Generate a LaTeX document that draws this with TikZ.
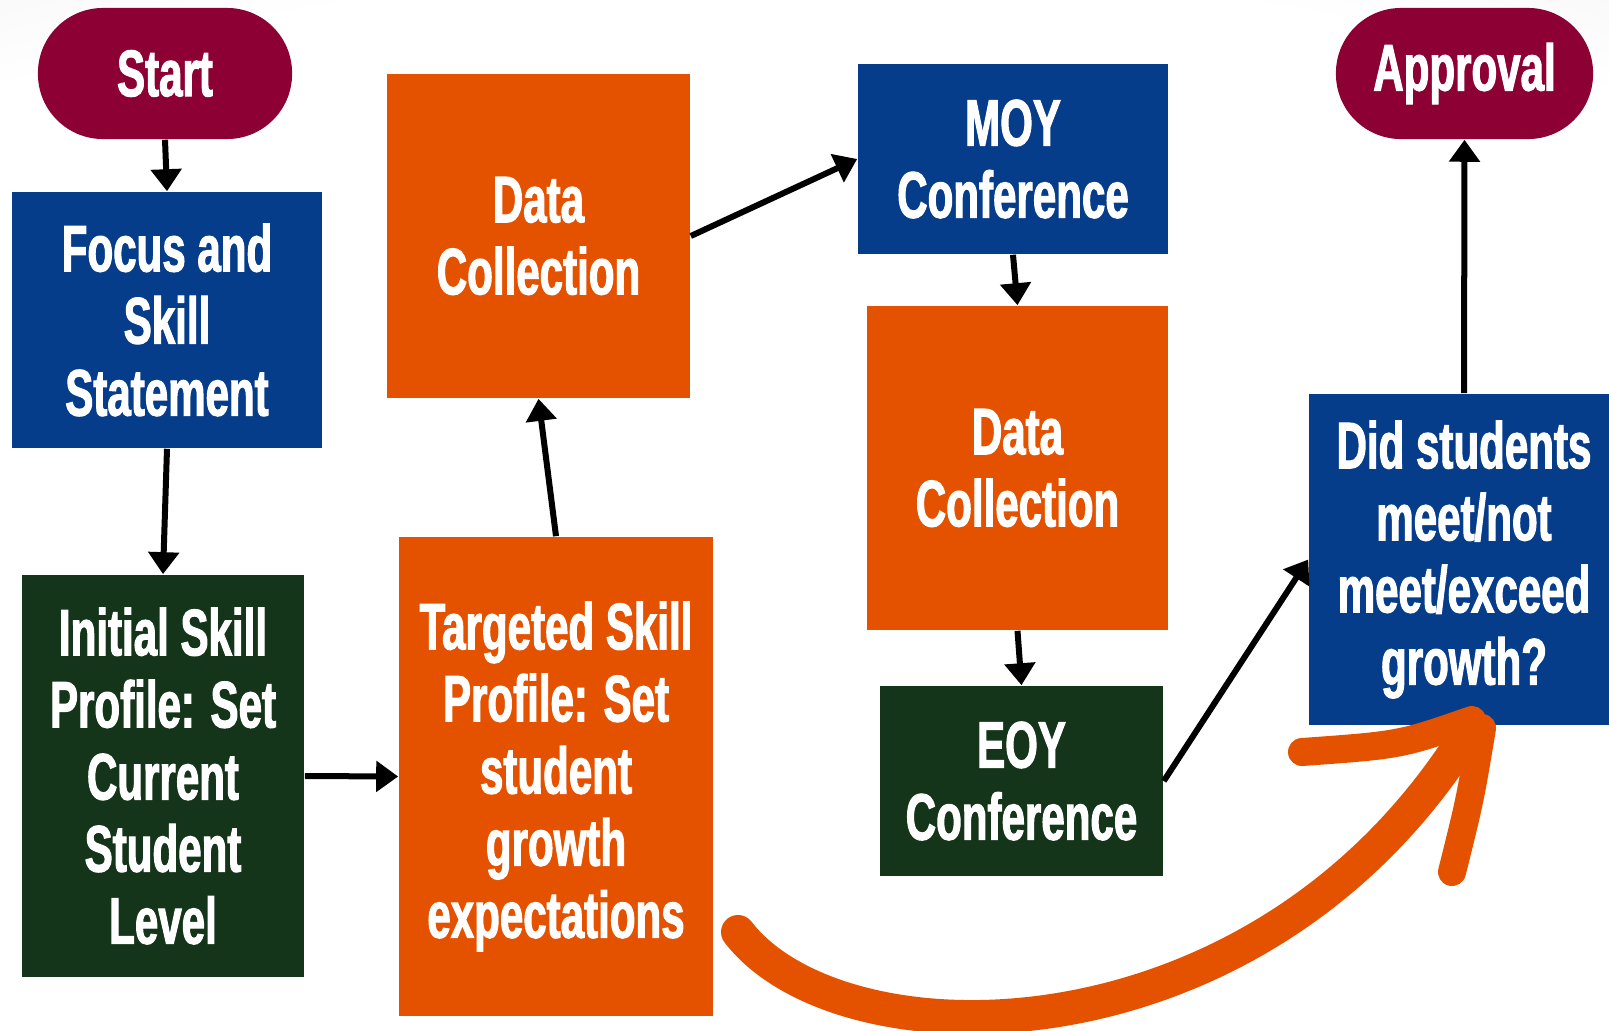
\documentclass[tikz,border=0pt]{standalone}
\usepackage{fontspec}
\setmainfont{Liberation Sans}[FakeStretch=0.64,FakeBold=1.6]
\usepackage{xcolor}
\usepackage{tikz}
\usetikzlibrary{shapes,arrows,arrows.meta,positioning,calc}

\definecolor{maroon}{HTML}{8C0034}
\definecolor{navy}{HTML}{063D8A}
\definecolor{rust}{HTML}{E45200}
\definecolor{pine}{HTML}{15351B}

\pgfdeclareradialshading{backshade}{\pgfpoint{0bp}{0bp}}{color(0bp)=(white); color(22bp)=(white); color(32bp)=(black!11); color(48bp)=(black!27); color(50bp)=(black!27)}

\tikzset{
  box/.style={rectangle, inner sep=0pt, text=white, align=center,
    font=\fontsize{18.7}{20.5}\selectfont\bfseries},
  terminal/.style={box, fill=maroon, rounded corners=0.65cm},
  flow/.style={line width=0.06cm, -{Triangle[width=0.3cm,length=0.22cm]}}
}

\begin{document}
\begin{tikzpicture}[x=0.01cm,y=-0.01cm]
            \useasboundingbox (0,0) rectangle (1609,1030);
            \clip (0,0) rectangle (1609,1030);
            \shade[shading=backshade] (800,850) ellipse (1800 and 1000);

            \node[terminal, minimum width=2.54cm, minimum height=1.31cm] (start) at (165,73.5) {Start};
            \node[terminal, minimum width=2.57cm, minimum height=1.31cm] (approval) at (1464.5,73.5) {Approval};

            \node[box, fill=navy, minimum width=3.10cm, minimum height=2.56cm] (focus) at (167,320) {Focus and\\Skill\\Statement};
            \node[box, fill=pine, minimum width=2.82cm, minimum height=4.02cm] (initial) at (163,776) {Initial Skill\\Profile: Set\\Current\\Student\\Level};
            \node[box, fill=rust, minimum width=3.03cm, minimum height=3.24cm] (collect1) at (538.5,236) {Data\\Collection};
            \node[box, fill=rust, minimum width=3.14cm, minimum height=4.79cm] (target) at (556,776.5) {Targeted Skill\\Profile: Set\\student\\growth\\expectations};
            \node[box, fill=navy, minimum width=3.10cm, minimum height=1.90cm] (moy) at (1013,159) {MOY\\Conference};
            \node[box, fill=rust, minimum width=3.01cm, minimum height=3.24cm] (collect2) at (1017.5,468) {Data\\Collection};
            \node[box, fill=pine, minimum width=2.83cm, minimum height=1.90cm] (eoy) at (1021.5,781) {EOY\\Conference};
            \node[box, fill=navy, minimum width=3.10cm, minimum height=3.31cm] (growth) at (1464,559.5) {Did students\\meet/not\\meet/exceed\\growth?};

            \draw[flow] (start.south) -- (focus.north);
            \draw[flow] (focus.south) -- (initial.north);
            \draw[flow] (initial.east) -- (target.west);
            \draw[flow] (target.north) -- (collect1.south);
            \draw[flow] (collect1.east) -- (moy.west);
            \draw[flow] (moy.south) -- (collect2.north);
            \draw[flow] (collect2.south) -- (eoy.north);
            \draw[flow] (eoy.east) -- (growth.west);
            \draw[flow] (growth.north) -- (approval.south);

            % big orange swoosh
            \draw[rust, line width=0.34cm, line cap=round] (738,932) .. controls (840,1065) and (1250,1070) .. (1462,742);
            \draw[rust, line width=0.28cm, line cap=round] (1472,720) .. controls (1400,745) .. (1302,752);
            \draw[rust, line width=0.28cm, line cap=round] (1482,728) .. controls (1470,800) .. (1452,872);
        \end{tikzpicture}
\end{document}
